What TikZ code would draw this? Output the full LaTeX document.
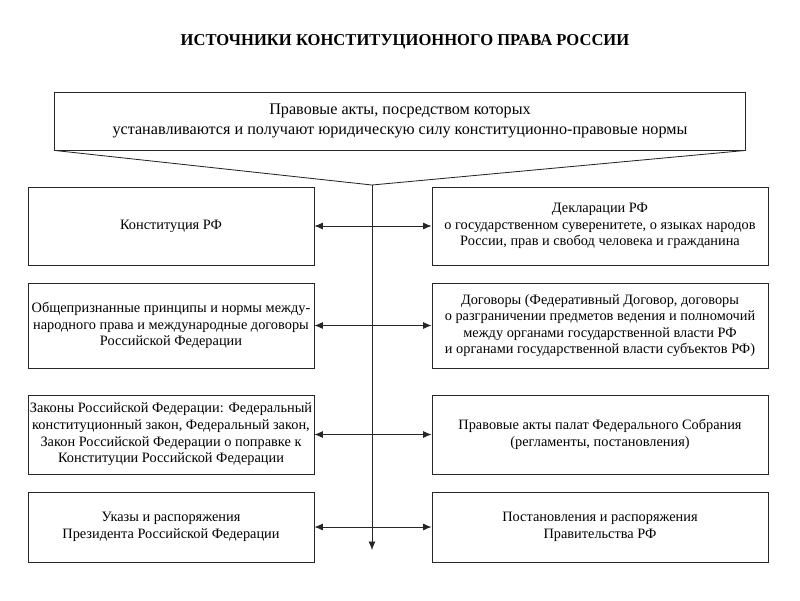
\documentclass[tikz,border=0pt]{standalone}
\usepackage{fontspec}
\setmainfont{Liberation Serif}
\usepackage{tikz}
\usetikzlibrary{arrows.meta}

\begin{document}
\begin{tikzpicture}[
    x=0.025cm, y=-0.025cm,
    block/.style={rectangle, draw=black!85, semithick, align=center, inner sep=1pt, font=\fontsize{10.2}{11.8}\selectfont},
    leftblock/.style={block, minimum width=7.15cm},
    rightblock/.style={block, minimum width=8.4cm},
    line/.style={draw=black!85, semithick, {Latex[length=6pt,width=5pt]}-{Latex[length=6pt,width=5pt]}}
]
\useasboundingbox (0,0) rectangle (800,600);

\node [font=\fontsize{11.8}{14}\selectfont\bfseries] (title) at (405,42) {ИСТОЧНИКИ КОНСТИТУЦИОННОГО ПРАВА РОССИИ};

\node [block, minimum width=17.25cm, minimum height=1.45cm, font=\fontsize{11.5}{13.6}\selectfont] (acts) at (400,121) {Правовые акты, посредством которых \\ устанавливаются и получают юридическую силу конституционно-правовые нормы};

\node [leftblock, minimum height=1.95cm] (constitution) at (171,226) {Конституция РФ};
\node [rightblock, minimum height=1.95cm] (declarations) at (600,226) {Декларации РФ \\ о государственном суверенитете, о языках народов \\ России, прав и свобод человека и гражданина};

\node [leftblock, minimum height=2.125cm] (intlaw) at (171,325.5) {Общепризнанные принципы и нормы между- \\ народного права и международные договоры \\ Российской Федерации};
\node [rightblock, minimum height=2.125cm] (treaties) at (600,325.5) {Договоры (Федеративный Договор, договоры \\ о разграничении предметов ведения и полномочий \\ между органами государственной власти РФ \\ и органами государственной власти субъектов РФ)};

\node [leftblock, minimum height=1.975cm] (laws) at (171,434.5) {Законы Российской Федерации: Федеральный \\ конституционный закон, Федеральный закон, \\ Закон Российской Федерации о поправке к \\ Конституции Российской Федерации};
\node [rightblock, minimum height=1.975cm] (chambers) at (600,434.5) {Правовые акты палат Федерального Собрания \\ (регламенты, постановления)};

\node [leftblock, minimum height=1.75cm] (decrees) at (171,527) {Указы и распоряжения \\ Президента Российской Федерации};
\node [rightblock, minimum height=1.75cm] (government) at (600,527) {Постановления и распоряжения \\ Правительства РФ};

% funnel under the top block
\coordinate (apex) at (372,185);
\coordinate (stem) at (372,550);
\draw [black!85, semithick] (acts.south west) -- (apex) -- (acts.south east);
\path [draw=black!85, semithick, -{Latex[length=6pt,width=5pt]}] (apex) -- (stem);

% links between the two columns
\path [line] (constitution.east) -- (declarations.west);
\path [line] (intlaw.east) -- (treaties.west);
\path [line] (laws.east) -- (chambers.west);
\path [line] (decrees.east) -- (government.west);

\end{tikzpicture}
\end{document}
